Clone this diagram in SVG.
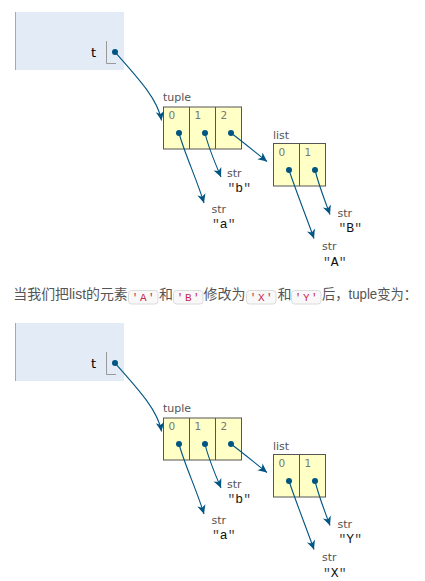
<svg xmlns="http://www.w3.org/2000/svg" width="425" height="581" viewBox="0 0 425 581">
<style>
.frame{fill:#e2ebf6}
.fl{stroke:#a8a8a8;stroke-width:1;fill:none}
.vname{font-family:"DejaVu Sans",Verdana,sans-serif;font-size:13px;fill:#000}
.ls{stroke:#999;stroke-width:1;fill:none}
.box{fill:#ffffc6;stroke:#555;stroke-width:1}
.lbl{font-family:"DejaVu Sans",Verdana,sans-serif;font-size:11px;fill:#555}
.idx{font-family:"DejaVu Sans",Verdana,sans-serif;font-size:10.5px;fill:#777}
.dot{fill:#005583}
.val{font-family:"Liberation Mono",monospace;font-size:13px;fill:#111}
.q{fill:#444}
.conn{fill:none;stroke:#005583;stroke-width:1.1;marker-end:url(#ah)}
.txt{font-family:"Liberation Sans","Noto Sans CJK SC",sans-serif;font-size:14px;fill:#555}
.cbox{fill:#f8f8f8;stroke:#dcdcdc;stroke-width:1}
.code{font-family:"Liberation Mono",monospace;font-size:11px;fill:#c7254e;letter-spacing:1.5px}
</style>
<defs>
<marker id="ah" viewBox="-10 -5 12 10" refX="0" refY="0" markerWidth="12" markerHeight="10" markerUnits="userSpaceOnUse" orient="auto">
<path d="M-9,-4.2 L0,0 L-9,4.2 L-6.5,0 Z" fill="#005583"/>
</marker>
</defs>

<!-- Diagram 1 -->
<g id="d1">
<g id="frame1">
<rect class="frame" x="15" y="12" width="109" height="58"/>
<line class="fl" x1="15.5" y1="12" x2="15.5" y2="70"/>
<text class="vname" x="96" y="57" text-anchor="end">t</text>
<path class="ls" d="M106.5,41 V63.5 H116"/>
<circle class="dot" cx="115" cy="52" r="3"/>
</g>
<g id="tuple1">
<text class="lbl" x="163" y="101">tuple</text>
<rect class="box" x="163.5" y="107" width="78" height="42"/>
<line class="box" x1="189.5" y1="107" x2="189.5" y2="149"/>
<line class="box" x1="215.5" y1="107" x2="215.5" y2="149"/>
<text class="idx" x="168.5" y="119">0</text>
<text class="idx" x="194.5" y="119">1</text>
<text class="idx" x="220.5" y="119">2</text>
<circle class="dot" cx="179" cy="133" r="3"/>
<circle class="dot" cx="205" cy="133" r="3"/>
<circle class="dot" cx="231" cy="133" r="3"/>
</g>
<g id="list1">
<text class="lbl" x="273" y="139">list</text>
<rect class="box" x="273.5" y="143.5" width="52" height="42.5"/>
<line class="box" x1="299.5" y1="143.5" x2="299.5" y2="186"/>
<text class="idx" x="278.5" y="156">0</text>
<text class="idx" x="304.5" y="156">1</text>
<circle class="dot" cx="289" cy="170" r="3"/>
<circle class="dot" cx="315" cy="170" r="3"/>
</g>
<g id="str_a1">
<text class="lbl" x="211.5" y="212.5">str</text>
<text class="val" x="212" y="227.5"><tspan class="q">"</tspan>a<tspan class="q">"</tspan></text>
</g>
<g id="str_b1">
<text class="lbl" x="227" y="176.5">str</text>
<text class="val" x="227.5" y="192"><tspan class="q">"</tspan>b<tspan class="q">"</tspan></text>
</g>
<g id="str_A1">
<text class="lbl" x="322" y="249.5">str</text>
<text class="val" x="323" y="265.5"><tspan class="q">"</tspan>A<tspan class="q">"</tspan></text>
</g>
<g id="str_B1">
<text class="lbl" x="337.5" y="217">str</text>
<text class="val" x="338.5" y="232"><tspan class="q">"</tspan>B<tspan class="q">"</tspan></text>
</g>
<g id="connectors1">
<path class="conn" d="M115,52 C140,80 158,100 161.5,120.5"/>
<path class="conn" d="M179,133 C184,152 197,180 204,203"/>
<path class="conn" d="M205,133 C208,146 215,163 221,177"/>
<path class="conn" d="M231,133 C243,142 255,152 267,161.5"/>
<path class="conn" d="M289,170 C296,191 306,216 314,238.5"/>
<path class="conn" d="M315,170 C319,186 325,201 330,214.5"/>
</g>
</g>

<!-- Sentence -->
<g id="sentence">
<text class="txt" x="13.3" y="299" textLength="114.5" lengthAdjust="spacingAndGlyphs">当我们把list的元素</text>
<rect class="cbox" x="128.5" y="290.5" width="29.5" height="13.5" rx="3"/>
<text class="code" x="144" y="300.5" text-anchor="middle">'A'</text>
<text class="txt" x="159" y="299">和</text>
<rect class="cbox" x="173.5" y="290.5" width="29.5" height="13.5" rx="3"/>
<text class="code" x="189" y="300.5" text-anchor="middle">'B'</text>
<text class="txt" x="203.5" y="299" textLength="42" lengthAdjust="spacingAndGlyphs">修改为</text>
<rect class="cbox" x="246.5" y="290.5" width="29.5" height="13.5" rx="3"/>
<text class="code" x="262" y="300.5" text-anchor="middle">'X'</text>
<text class="txt" x="277.5" y="299">和</text>
<rect class="cbox" x="291.5" y="290.5" width="29.5" height="13.5" rx="3"/>
<text class="code" x="307" y="300.5" text-anchor="middle">'Y'</text>
<text class="txt" x="322" y="299" textLength="95" lengthAdjust="spacingAndGlyphs">后，tuple变为：</text>
</g>

<!-- Diagram 2 -->
<g id="d2" transform="translate(0,311)">
<g id="frame2">
<rect class="frame" x="15" y="12" width="109" height="58"/>
<line class="fl" x1="15.5" y1="12" x2="15.5" y2="70"/>
<text class="vname" x="96" y="57" text-anchor="end">t</text>
<path class="ls" d="M106.5,41 V63.5 H116"/>
<circle class="dot" cx="115" cy="52" r="3"/>
</g>
<g id="tuple2">
<text class="lbl" x="163" y="101">tuple</text>
<rect class="box" x="163.5" y="107" width="78" height="42"/>
<line class="box" x1="189.5" y1="107" x2="189.5" y2="149"/>
<line class="box" x1="215.5" y1="107" x2="215.5" y2="149"/>
<text class="idx" x="168.5" y="119">0</text>
<text class="idx" x="194.5" y="119">1</text>
<text class="idx" x="220.5" y="119">2</text>
<circle class="dot" cx="179" cy="133" r="3"/>
<circle class="dot" cx="205" cy="133" r="3"/>
<circle class="dot" cx="231" cy="133" r="3"/>
</g>
<g id="list2">
<text class="lbl" x="273" y="139">list</text>
<rect class="box" x="273.5" y="143.5" width="52" height="42.5"/>
<line class="box" x1="299.5" y1="143.5" x2="299.5" y2="186"/>
<text class="idx" x="278.5" y="156">0</text>
<text class="idx" x="304.5" y="156">1</text>
<circle class="dot" cx="289" cy="170" r="3"/>
<circle class="dot" cx="315" cy="170" r="3"/>
</g>
<g id="str_a2">
<text class="lbl" x="211.5" y="212.5">str</text>
<text class="val" x="212" y="227.5"><tspan class="q">"</tspan>a<tspan class="q">"</tspan></text>
</g>
<g id="str_b2">
<text class="lbl" x="227" y="176.5">str</text>
<text class="val" x="227.5" y="192"><tspan class="q">"</tspan>b<tspan class="q">"</tspan></text>
</g>
<g id="str_X2">
<text class="lbl" x="322" y="249.5">str</text>
<text class="val" x="323" y="265.5"><tspan class="q">"</tspan>X<tspan class="q">"</tspan></text>
</g>
<g id="str_Y2">
<text class="lbl" x="337.5" y="217">str</text>
<text class="val" x="338.5" y="232"><tspan class="q">"</tspan>Y<tspan class="q">"</tspan></text>
</g>
<g id="connectors2">
<path class="conn" d="M115,52 C140,80 158,100 161.5,120.5"/>
<path class="conn" d="M179,133 C184,152 197,180 204,203"/>
<path class="conn" d="M205,133 C208,146 215,163 221,177"/>
<path class="conn" d="M231,133 C243,142 255,152 267,161.5"/>
<path class="conn" d="M289,170 C296,191 306,216 314,238.5"/>
<path class="conn" d="M315,170 C319,186 325,201 330,214.5"/>
</g>
</g>
</svg>
